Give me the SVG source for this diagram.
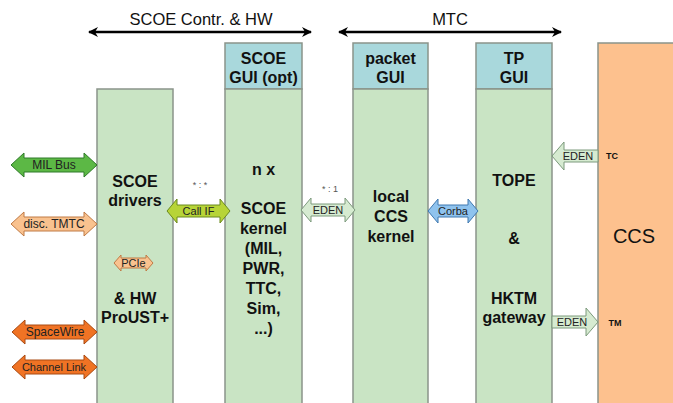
<svg xmlns="http://www.w3.org/2000/svg" width="673" height="403" viewBox="0 0 673 403">
<defs>
<style>
.body{fill:#c9e4c4;stroke:#8a948a;stroke-width:1.5}
.head{fill:#a9d8dc;stroke:#8a948a;stroke-width:1.5}
.ccs{fill:#fdc18e;stroke:#8a948a;stroke-width:1.5}
.t{font-family:"Liberation Sans",Arial,sans-serif;fill:#111;text-anchor:middle}
.b{font-weight:bold;font-size:16px}
.h{font-weight:bold;font-size:16px}
.s{font-size:11px;fill:#222}
.l{font-size:12px}
.r{font-size:9px;fill:#555}
.scope{stroke:#000;stroke-width:2.5;fill:none;marker-start:url(#ah);marker-end:url(#ah)}
</style>
<marker id="ah" viewBox="0 0 10 10" refX="9" refY="5" markerWidth="4" markerHeight="4" orient="auto-start-reverse" markerUnits="strokeWidth">
<path d="M0,0 L10,5 L0,10 L3,5 Z" fill="#000"/>
</marker>
</defs>
<rect width="673" height="403" fill="#fff"/>

<g id="scope-scoe">
<line class="scope" x1="89" y1="32" x2="311" y2="32"/>
<text class="t" x="201" y="25" font-size="16.5">SCOE Contr. &amp; HW</text>
</g>
<g id="scope-mtc">
<line class="scope" x1="339" y1="32" x2="561" y2="32"/>
<text class="t" x="450" y="25" font-size="16.5">MTC</text>
</g>

<g id="scoe-drivers">
<rect class="body" x="97" y="89" width="76" height="320"/>
<text class="t b" x="135" y="187">SCOE</text>
<text class="t b" x="135" y="206">drivers</text>
<text class="t b" x="135" y="304">&amp; HW</text>
<text class="t b" x="135" y="323">ProUST+</text>
</g>

<g id="scoe-kernel">
<rect class="head" x="225" y="43" width="77" height="46"/>
<text class="t h" x="263.5" y="64">SCOE</text>
<text class="t h" x="263.5" y="83">GUI (opt)</text>
<rect class="body" x="225" y="89" width="77" height="320"/>
<text class="t b" x="263.5" y="175">n x</text>
<text class="t b" x="263.5" y="214">SCOE</text>
<text class="t b" x="263.5" y="234">kernel</text>
<text class="t b" x="263.5" y="254">(MIL,</text>
<text class="t b" x="263.5" y="274">PWR,</text>
<text class="t b" x="263.5" y="294">TTC,</text>
<text class="t b" x="263.5" y="314">Sim,</text>
<text class="t b" x="263.5" y="334">...)</text>
</g>

<g id="local-ccs">
<rect class="head" x="353" y="43" width="75" height="46"/>
<text class="t h" x="390.5" y="64">packet</text>
<text class="t h" x="390.5" y="83">GUI</text>
<rect class="body" x="353" y="89" width="75" height="320"/>
<text class="t b" x="391" y="202">local</text>
<text class="t b" x="391" y="222">CCS</text>
<text class="t b" x="391" y="242">kernel</text>
</g>

<g id="tope">
<rect class="head" x="476" y="43" width="76" height="46"/>
<text class="t h" x="514" y="64">TP</text>
<text class="t h" x="514" y="83">GUI</text>
<rect class="body" x="476" y="89" width="76" height="320"/>
<text class="t b" x="514" y="186">TOPE</text>
<text class="t b" x="514" y="244">&amp;</text>
<text class="t b" x="514" y="304">HKTM</text>
<text class="t b" x="514" y="323">gateway</text>
</g>

<g id="ccs">
<rect class="ccs" x="598" y="43" width="80" height="366"/>
<text class="t" x="634" y="243" font-size="20">CCS</text>
<text class="t" x="612" y="159" font-size="9" font-weight="bold">TC</text>
<text class="t" x="615" y="326" font-size="9" font-weight="bold">TM</text>
</g>

<g id="connectors">
<g id="mil-bus">
<path d="M11,165 L24,153 L24,158 L84,158 L84,153 L97,165 L84,177 L84,172 L24,172 L24,177 Z" fill="#5cb845" stroke="#2f7a2a" stroke-width="1"/>
<text class="t s l" x="54" y="169">MIL Bus</text>
</g>
<g id="disc-tmtc">
<path d="M11,224 L24,212 L24,217 L84,217 L84,212 L97,224 L84,236 L84,231 L24,231 L24,236 Z" fill="#f9c28f" stroke="#c07a45" stroke-width="1"/>
<text class="t s l" x="54" y="228">disc. TMTC</text>
</g>
<g id="spacewire">
<path d="M12,332 L25,320 L25,325 L84,325 L84,320 L97,332 L84,344 L84,339 L25,339 L25,344 Z" fill="#f07324" stroke="#a84a12" stroke-width="1"/>
<text class="t s l" x="55" y="336">SpaceWire</text>
</g>
<g id="channel-link">
<path d="M12,367 L25,355 L25,360 L84,360 L84,355 L97,367 L84,379 L84,374 L25,374 L25,379 Z" fill="#f07324" stroke="#a84a12" stroke-width="1"/>
<text class="t s" x="54" y="371" font-size="11.5">Channel Link</text>
</g>
<g id="pcie">
<path d="M114,263 L121,255 L121,258 L146,258 L146,255 L153,263 L146,271 L146,268 L121,268 L121,271 Z" fill="#f9c28f" stroke="#c07a45" stroke-width="1"/>
<text class="t s" x="133.5" y="267" font-size="10.5">PCIe</text>
</g>
<g id="call-if">
<path d="M167,211 L177,199 L177,205 L220,205 L220,199 L230,211 L220,223 L220,217 L177,217 L177,223 Z" fill="#b7d437" stroke="#6b8a1e" stroke-width="1"/>
<text class="t s" x="198.5" y="215">Call IF</text>
<text class="t r" x="200" y="188">* : *</text>
</g>
<g id="eden-mid">
<path d="M301,210 L311,198 L311,204 L345,204 L345,198 L355,210 L345,222 L345,216 L311,216 L311,222 Z" fill="#d6ebd1" stroke="#7c9a7c" stroke-width="1"/>
<text class="t s" x="328" y="214">EDEN</text>
<text class="t r" x="330" y="192">* : 1</text>
</g>
<g id="corba">
<path d="M428,211 L438,199 L438,205 L468,205 L468,199 L478,211 L468,223 L468,217 L438,217 L438,223 Z" fill="#8fc3ee" stroke="#3f78b0" stroke-width="1"/>
<text class="t s" x="453" y="215">Corba</text>
</g>
<g id="eden-tc">
<path d="M552,156 L564,142 L564,150 L598,150 L598,162 L564,162 L564,170 Z" fill="#d6ebd1" stroke="#7c9a7c" stroke-width="1"/>
<text class="t s" x="578" y="160">EDEN</text>
</g>
<g id="eden-tm">
<path d="M552,316 L586,316 L586,308 L598,322 L586,336 L586,328 L552,328 Z" fill="#d6ebd1" stroke="#7c9a7c" stroke-width="1"/>
<text class="t s" x="572" y="326">EDEN</text>
</g>
</g>
</svg>
